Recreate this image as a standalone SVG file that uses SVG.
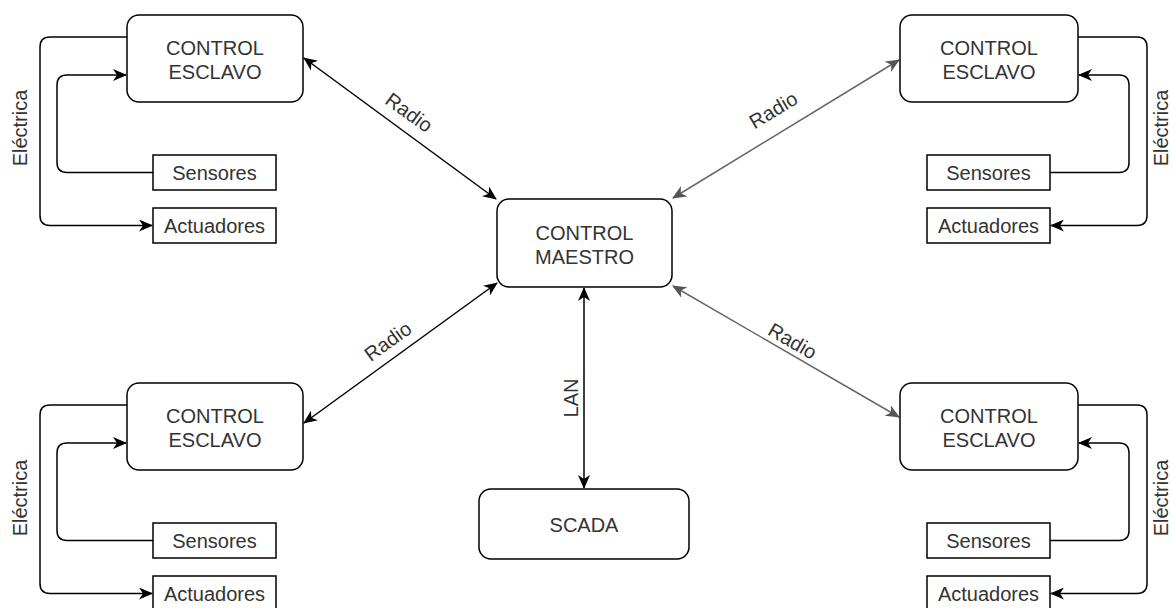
<svg xmlns="http://www.w3.org/2000/svg" width="1172" height="608" viewBox="0 0 1172 608">
  <style>
    .box { fill: #ffffff; stroke: #000000; stroke-width: 1.5; }
    .lbl { font-family: "Liberation Sans", Arial, Helvetica, sans-serif; font-size: 20px; fill: #333333; text-anchor: middle; }
    .wire { fill: none; stroke: #000000; stroke-width: 1.5; }
    .wire-gray { fill: none; stroke: #666666; stroke-width: 1.5; }
  </style>
  <defs>
    <marker id="arrow" viewBox="0 0 14 12" refX="13" refY="6" markerWidth="14" markerHeight="12" markerUnits="userSpaceOnUse" orient="auto-start-reverse">
      <path d="M0,0 L14,6 L0,12 L4,6 Z" fill="#000000"/>
    </marker>
    <marker id="arrow-gray" viewBox="0 0 14 12" refX="13" refY="6" markerWidth="14" markerHeight="12" markerUnits="userSpaceOnUse" orient="auto-start-reverse">
      <path d="M0,0 L14,6 L0,12 L4,6 Z" fill="#555555"/>
    </marker>
  </defs>
  <rect width="1172" height="608" fill="#ffffff"/>

  <!-- connectors -->
  <g id="connectors">
    <!-- radio links between master and slaves -->
    <line class="wire" x1="304" y1="58" x2="496" y2="199" marker-start="url(#arrow)" marker-end="url(#arrow)"/>
    <line class="wire-gray" x1="673" y1="198" x2="899" y2="60" marker-start="url(#arrow-gray)" marker-end="url(#arrow-gray)"/>
    <line class="wire" x1="497" y1="283" x2="304" y2="423" marker-start="url(#arrow)" marker-end="url(#arrow)"/>
    <line class="wire-gray" x1="673" y1="286" x2="899" y2="417" marker-start="url(#arrow-gray)" marker-end="url(#arrow-gray)"/>
    <!-- LAN link -->
    <line class="wire" x1="584" y1="288" x2="584" y2="488" marker-start="url(#arrow)" marker-end="url(#arrow)"/>

    <!-- top-left slave wiring -->
    <path class="wire" d="M127,37 H50 Q40,37 40,47 V215.5 Q40,225.5 50,225.5 H152" marker-end="url(#arrow)"/>
    <path class="wire" d="M153,172.5 H67 Q57,172.5 57,162.5 V85 Q57,75 67,75 H126" marker-end="url(#arrow)"/>
    <!-- top-right slave wiring -->
    <path class="wire" d="M1078,37 H1137 Q1147,37 1147,47 V215.5 Q1147,225.5 1137,225.5 H1051" marker-end="url(#arrow)"/>
    <path class="wire" d="M1050,172.5 H1119 Q1129,172.5 1129,162.5 V85 Q1129,75 1119,75 H1079" marker-end="url(#arrow)"/>
    <!-- bottom-left slave wiring -->
    <path class="wire" d="M127,405 H50 Q40,405 40,415 V583.5 Q40,593.5 50,593.5 H152" marker-end="url(#arrow)"/>
    <path class="wire" d="M153,540.5 H67 Q57,540.5 57,530.5 V453 Q57,443 67,443 H126" marker-end="url(#arrow)"/>
    <!-- bottom-right slave wiring -->
    <path class="wire" d="M1078,405 H1137 Q1147,405 1147,415 V583.5 Q1147,593.5 1137,593.5 H1051" marker-end="url(#arrow)"/>
    <path class="wire" d="M1050,540.5 H1119 Q1129,540.5 1129,530.5 V453 Q1129,443 1119,443 H1079" marker-end="url(#arrow)"/>

    <!-- link labels -->
    <text class="lbl" transform="translate(405,118) rotate(36)">Radio</text>
    <text class="lbl" transform="translate(777,116) rotate(-31)">Radio</text>
    <text class="lbl" transform="translate(392,347) rotate(-36)">Radio</text>
    <text class="lbl" transform="translate(789,347) rotate(30)">Radio</text>
    <text class="lbl" transform="translate(578,398) rotate(-90)">LAN</text>
    <text class="lbl" transform="translate(27,128) rotate(-90)">Eléctrica</text>
    <text class="lbl" transform="translate(1168,128) rotate(-90)">Eléctrica</text>
    <text class="lbl" transform="translate(27,498) rotate(-90)">Eléctrica</text>
    <text class="lbl" transform="translate(1168,498) rotate(-90)">Eléctrica</text>
  </g>

  <!-- master controller -->
  <g id="master">
    <rect class="box" x="497" y="199" width="175" height="88" rx="12"/>
    <text class="lbl" x="584.5" y="239.5">CONTROL</text>
    <text class="lbl" x="584.5" y="263.5">MAESTRO</text>
  </g>

  <!-- SCADA -->
  <g id="scada">
    <rect class="box" x="479" y="489" width="210" height="70" rx="12"/>
    <text class="lbl" x="584" y="532">SCADA</text>
  </g>

  <!-- slave controllers -->
  <g id="slave-tl">
    <rect class="box" x="127" y="15" width="176" height="87" rx="12"/>
    <text class="lbl" x="215" y="55">CONTROL</text>
    <text class="lbl" x="215" y="79">ESCLAVO</text>
  </g>
  <g id="slave-tr">
    <rect class="box" x="900" y="15" width="178" height="87" rx="12"/>
    <text class="lbl" x="989" y="55">CONTROL</text>
    <text class="lbl" x="989" y="79">ESCLAVO</text>
  </g>
  <g id="slave-bl">
    <rect class="box" x="127" y="383" width="176" height="87" rx="12"/>
    <text class="lbl" x="215" y="423">CONTROL</text>
    <text class="lbl" x="215" y="447">ESCLAVO</text>
  </g>
  <g id="slave-br">
    <rect class="box" x="900" y="383" width="178" height="87" rx="12"/>
    <text class="lbl" x="989" y="423">CONTROL</text>
    <text class="lbl" x="989" y="447">ESCLAVO</text>
  </g>

  <!-- field devices -->
  <g id="sensores-tl">
    <rect class="box" x="153" y="155" width="123" height="35"/>
    <text class="lbl" x="214.5" y="180">Sensores</text>
  </g>
  <g id="actuadores-tl">
    <rect class="box" x="153" y="208" width="123" height="35"/>
    <text class="lbl" x="214.5" y="233">Actuadores</text>
  </g>
  <g id="sensores-tr">
    <rect class="box" x="927" y="155" width="123" height="35"/>
    <text class="lbl" x="988.5" y="180">Sensores</text>
  </g>
  <g id="actuadores-tr">
    <rect class="box" x="927" y="208" width="123" height="35"/>
    <text class="lbl" x="988.5" y="233">Actuadores</text>
  </g>
  <g id="sensores-bl">
    <rect class="box" x="153" y="523" width="123" height="35"/>
    <text class="lbl" x="214.5" y="548">Sensores</text>
  </g>
  <g id="actuadores-bl">
    <rect class="box" x="153" y="576" width="123" height="35"/>
    <text class="lbl" x="214.5" y="601">Actuadores</text>
  </g>
  <g id="sensores-br">
    <rect class="box" x="927" y="523" width="123" height="35"/>
    <text class="lbl" x="988.5" y="548">Sensores</text>
  </g>
  <g id="actuadores-br">
    <rect class="box" x="927" y="576" width="123" height="35"/>
    <text class="lbl" x="988.5" y="601">Actuadores</text>
  </g>
</svg>
